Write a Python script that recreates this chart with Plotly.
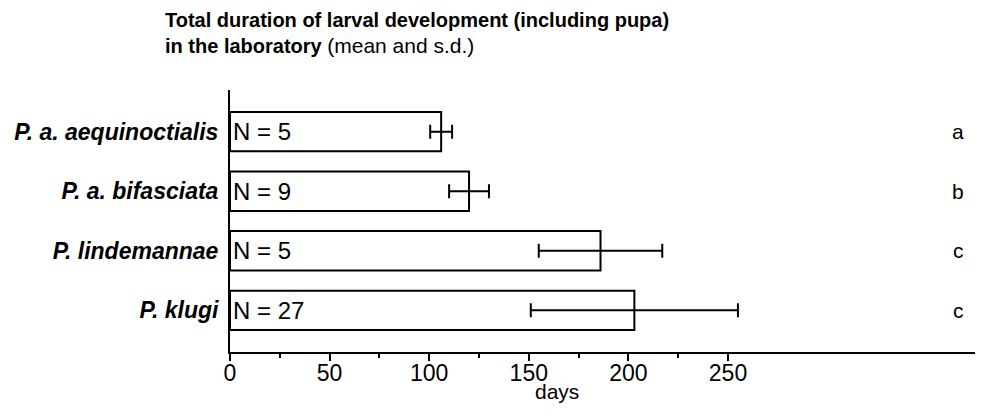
import plotly.graph_objects as go

species = ["P. a. aequinoctialis", "P. a. bifasciata", "P. lindemannae", "P. klugi"]
mean_days = [106, 120, 186, 203]
sd_days = [5.5, 10, 31, 52]
n_labels = ["N = 5", "N = 9", "N = 5", "N = 27"]
group_letters = ["a", "b", "c", "c"]
major_ticks = [0, 50, 100, 150, 200, 250]
minor_ticks = [25, 75, 125, 175, 225]

FONT = "Liberation Sans, Arial, sans-serif"
L, T, B, R = 222, 82, 76, 26
PLOT_H = 420 - T - B
PLOT_W = 993 - L - R

fig = go.Figure()
fig.add_trace(go.Bar(
    y=species, x=mean_days, orientation="h",
    marker=dict(color="white", line=dict(color="black", width=2)),
    width=0.66,
    error_x=dict(type="data", array=sd_days, visible=True, color="black", thickness=2, width=7),
    text=n_labels, textposition="inside", insidetextanchor="start",
    textfont=dict(family=FONT, size=24, color="black"),
    cliponaxis=False,
))

for sp, letter in zip(species, group_letters):
    fig.add_annotation(x=(950 - L) / PLOT_W, xref="paper", y=sp, yref="y", text=letter,
                       showarrow=False, font=dict(family=FONT, size=21, color="black"),
                       xanchor="center", yanchor="middle")

fig.add_annotation(x=164, xref="x", y=-(383 - (420 - B)) / PLOT_H, yref="paper", text="days",
                   showarrow=False, font=dict(family=FONT, size=21, color="black"),
                   xanchor="center", yanchor="middle")

fig.add_annotation(x=(155 - L) / PLOT_W, xref="paper", y=1 + (T - 12) / PLOT_H, yref="paper",
                   text="<b>Total duration of larval development (including pupa)</b>",
                   showarrow=False, xanchor="left", yanchor="middle", align="left",
                   font=dict(family=FONT, size=20, color="black"))
fig.add_annotation(x=(155 - L) / PLOT_W, xref="paper", y=1 + (T - 37) / PLOT_H, yref="paper",
                   text="<b>in the laboratory</b> <span style='font-size:21px'>(mean and s.d.)</span>",
                   showarrow=False, xanchor="left", yanchor="middle", align="left",
                   font=dict(family=FONT, size=20, color="black"))

fig.update_layout(
    width=993, height=420,
    margin=dict(l=L, r=R, t=T, b=B),
    plot_bgcolor="white", paper_bgcolor="white",
    showlegend=False,
    xaxis=dict(
        range=[0, 374], tickmode="array", tickvals=major_ticks, automargin=False,
        ticks="outside", ticklen=7, tickwidth=2, tickcolor="black",
        ticklabelstandoff=-8,
        minor=dict(tickmode="array", tickvals=minor_ticks, ticks="outside", ticklen=4, tickwidth=2, tickcolor="black"),
        showline=True, linecolor="black", linewidth=2, showgrid=False, zeroline=False,
        tickfont=dict(family=FONT, size=23, color="black"),
    ),
    yaxis=dict(
        categoryorder="array", categoryarray=species, autorange=False, range=[3.7, -0.7],
        showline=True, linecolor="black", linewidth=2, showgrid=False, zeroline=False,
        ticks="", ticklabelstandoff=5, automargin=False,
        tickmode="array", tickvals=species,
        ticktext=["<b><i>" + s + "</i></b>" for s in species],
        tickfont=dict(family=FONT, size=23, color="black"),
    ),
)

fig.write_html("out.html")
